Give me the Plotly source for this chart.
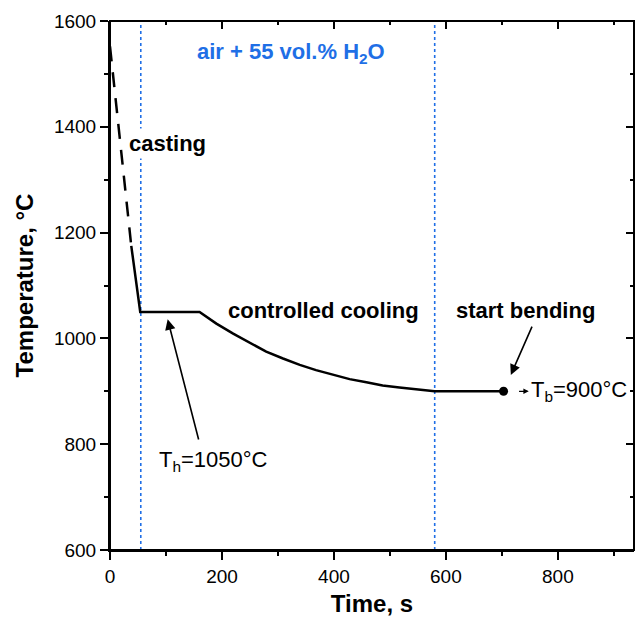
import plotly.graph_objects as go

# ---- data ----
# casting stage (dashed, estimated)
t_cast = [0, 13, 26, 38]
T_cast = [1552, 1425, 1295, 1175]

# casting end, holding at Th, controlled cooling, holding at Tb
t_proc = [38, 54, 160, 190, 220, 250, 279, 309, 339, 368, 398, 428, 458, 487, 517, 546, 576, 580, 703]
T_proc = [1175, 1050, 1050, 1028, 1009, 991, 975, 962, 950, 940, 931, 923, 917, 911, 907, 903.5, 901, 900, 900]

# start bending point
t_bend = [703]
T_bend = [900]

# atmosphere boundaries (blue dotted lines)
t_bounds = [55, 580]

x_ticks = [0, 200, 400, 600, 800]
y_ticks = [600, 800, 1000, 1200, 1400, 1600]

FONT = "Liberation Sans, Arial, sans-serif"
BLUE = "#1f6fe6"

fig = go.Figure()

fig.add_trace(go.Scatter(x=t_cast, y=T_cast, mode="lines",
                         line=dict(color="black", width=2.5, dash="15px,11px"),
                         hoverinfo="skip", showlegend=False))
fig.add_trace(go.Scatter(x=t_proc, y=T_proc, mode="lines",
                         line=dict(color="black", width=2.5),
                         hoverinfo="skip", showlegend=False))
fig.add_trace(go.Scatter(x=t_bend, y=T_bend, mode="markers",
                         marker=dict(color="black", size=9),
                         hoverinfo="skip", showlegend=False))
# invisible helper trace for the mirrored (inside-tick) top/right axes
fig.add_trace(go.Scatter(x=t_proc, y=T_proc, mode="lines", xaxis="x2", yaxis="y2",
                         line=dict(width=0), opacity=0, hoverinfo="skip", showlegend=False))

for tb in t_bounds:
    fig.add_vline(x=tb, line=dict(color=BLUE, width=1.6, dash="dot"), layer="below")

# plot frame
fig.add_shape(type="rect", xref="paper", yref="paper", x0=0, x1=1, y0=0, y1=1,
              line=dict(color="black", width=2), fillcolor="rgba(0,0,0,0)", layer="above")

fig.add_annotation(x=324, y=1540, text="<b>air + 55 vol.% H<sub>2</sub>O</b>", showarrow=False,
                   font=dict(family=FONT, size=22, color=BLUE))
fig.add_annotation(x=102, y=1368, text="<b>casting</b>", showarrow=False,
                   font=dict(family=FONT, size=22, color="black"),
                   bgcolor="white", borderpad=2)
fig.add_annotation(x=382, y=1053, text="<b>controlled cooling</b>", showarrow=False,
                   font=dict(family=FONT, size=22, color="black"))
fig.add_annotation(x=742, y=1053, text="<b>start bending</b>", showarrow=False,
                   font=dict(family=FONT, size=22, color="black"))
fig.add_annotation(x=184, y=768, text="T<sub>h</sub>=1050°C", showarrow=False,
                   font=dict(family=FONT, size=22, color="black"))
fig.add_annotation(x=838, y=900, text="T<sub>b</sub>=900°C", showarrow=False,
                   font=dict(family=FONT, size=22, color="black"))

# arrows
fig.add_annotation(x=103, y=1036, ax=159, ay=806, axref="x", ayref="y", text="",
                   showarrow=True, arrowhead=2, arrowsize=1.3, arrowwidth=1.6,
                   arrowcolor="black", standoff=0)
fig.add_annotation(x=716, y=931, ax=755, ay=1025, axref="x", ayref="y", text="",
                   showarrow=True, arrowhead=2, arrowsize=1.3, arrowwidth=1.6,
                   arrowcolor="black", standoff=0)
fig.add_annotation(x=748, y=900, ax=728, ay=900, axref="x", ayref="y", text="",
                   showarrow=True, arrowhead=2, arrowsize=0.9, arrowwidth=1.2,
                   arrowcolor="black", standoff=0)

axis_common = dict(showgrid=False, zeroline=False, linecolor="black", linewidth=2,
                   tickcolor="black", tickwidth=1.8, ticklen=8,
                   tickfont=dict(family=FONT, size=19, color="black"))
minor_out = dict(dtick=100, tick0=0, ticks="outside", ticklen=4, tickwidth=1.8, tickcolor="black")
minor_in = dict(dtick=100, tick0=0, ticks="inside", ticklen=4, tickwidth=1.8, tickcolor="black")

X_MAX = 936

# page body has an 8px margin: figure is sized so the page never overflows the window
fig.update_layout(
    width=627, height=609,
    margin=dict(l=102, r=1, t=13, b=62),
    plot_bgcolor="white", paper_bgcolor="white",
    xaxis=dict(range=[0, X_MAX], tickvals=x_ticks, ticks="outside", showline=True, mirror=False,
               minor=minor_out,
               title=dict(text="<b>Time, s</b>", font=dict(family=FONT, size=24, color="black"), standoff=12),
               **axis_common),
    yaxis=dict(range=[600, 1600], tickvals=y_ticks, ticks="outside", showline=True, mirror=False,
               minor=minor_out,
               title=dict(text="<b>Temperature, °C</b>", font=dict(family=FONT, size=24, color="black"), standoff=14),
               **axis_common),
    xaxis2=dict(overlaying="x", matches="x", side="top", range=[0, X_MAX], tickvals=x_ticks,
                ticks="inside", showticklabels=False, showline=False,
                showgrid=False, zeroline=False,
                ticklen=8, tickwidth=1.8, tickcolor="black", minor=minor_in),
    yaxis2=dict(overlaying="y", matches="y", side="right", range=[600, 1600], tickvals=y_ticks,
                ticks="inside", showticklabels=False, showline=False,
                showgrid=False, zeroline=False,
                ticklen=8, tickwidth=1.8, tickcolor="black", minor=minor_in),
    showlegend=False,
)

fig.write_html("out.html")
